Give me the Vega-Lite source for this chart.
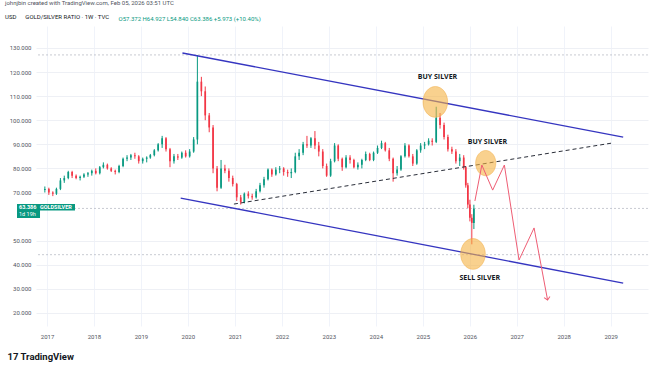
{
  "$schema": "https://vega.github.io/schema/vega-lite/v6.json",
  "width": 612,
  "height": 300,
  "autosize": {"type": "none"},
  "padding": {"left": 36, "top": 26, "right": 6, "bottom": 40},
  "background": "#ffffff",
  "title": {
    "text": "johnjbin created with TradingView.com, Feb 05, 2026 03:51 UTC",
    "subtitle": "\u00a0\u00a0USD\u00a0\u00a0\u00a0\u00a0\u00a0\u00a0GOLD/SILVER RATIO · 1W · TVC",
    "anchor": "start",
    "frame": "group",
    "dx": -31,
    "dy": 8,
    "offset": 3,
    "fontSize": 6,
    "fontWeight": "normal",
    "color": "#50535e",
    "font": "Roboto",
    "subtitleFont": "Roboto",
    "subtitleFontSize": 6,
    "subtitleColor": "#131722",
    "subtitlePadding": 8.5
  },
  "datasets": {
    "candles": [
      {"date": "2016-12-15", "open": 71, "high": 72.5, "low": 70, "close": 71.5},
      {"date": "2017-01-15", "open": 71.5, "high": 72, "low": 69, "close": 70},
      {"date": "2017-02-15", "open": 70, "high": 70.5, "low": 68.5, "close": 69.5},
      {"date": "2017-03-15", "open": 69.5, "high": 72, "low": 69, "close": 71.5},
      {"date": "2017-04-15", "open": 71.5, "high": 76, "low": 71, "close": 75},
      {"date": "2017-05-15", "open": 75, "high": 77, "low": 74, "close": 76},
      {"date": "2017-06-15", "open": 76, "high": 79, "low": 75.5, "close": 78.5},
      {"date": "2017-07-15", "open": 78.5, "high": 79, "low": 76, "close": 77},
      {"date": "2017-08-15", "open": 77, "high": 77.5, "low": 75.5, "close": 76},
      {"date": "2017-09-15", "open": 76, "high": 77, "low": 75, "close": 76.5},
      {"date": "2017-10-15", "open": 76.5, "high": 78, "low": 76, "close": 77.5},
      {"date": "2017-11-15", "open": 77.5, "high": 78.5, "low": 76.5, "close": 78},
      {"date": "2017-12-15", "open": 78, "high": 79.5, "low": 77, "close": 79},
      {"date": "2018-01-15", "open": 79, "high": 80, "low": 77.5, "close": 78},
      {"date": "2018-02-15", "open": 78, "high": 81, "low": 77.5, "close": 80.5},
      {"date": "2018-03-15", "open": 80.5, "high": 82.5, "low": 80, "close": 81.5},
      {"date": "2018-04-15", "open": 81.5, "high": 82, "low": 79.5, "close": 80},
      {"date": "2018-05-15", "open": 80, "high": 80.5, "low": 78.5, "close": 79},
      {"date": "2018-06-15", "open": 79, "high": 79.5, "low": 77.5, "close": 78.5},
      {"date": "2018-07-15", "open": 78.5, "high": 81.5, "low": 78, "close": 81},
      {"date": "2018-08-15", "open": 81, "high": 84.5, "low": 80.5, "close": 84},
      {"date": "2018-09-15", "open": 84, "high": 85.5, "low": 83, "close": 84.5},
      {"date": "2018-10-15", "open": 84.5, "high": 86, "low": 83.5, "close": 85.5},
      {"date": "2018-11-15", "open": 85.5, "high": 86.5, "low": 84, "close": 85},
      {"date": "2018-12-15", "open": 85, "high": 85.5, "low": 82, "close": 83},
      {"date": "2019-01-15", "open": 83, "high": 84.5, "low": 82, "close": 84},
      {"date": "2019-02-15", "open": 84, "high": 85, "low": 82.5, "close": 84.5},
      {"date": "2019-03-15", "open": 84.5, "high": 86, "low": 84, "close": 85.5},
      {"date": "2019-04-15", "open": 85.5, "high": 88, "low": 85, "close": 87.5},
      {"date": "2019-05-15", "open": 87.5, "high": 90.5, "low": 87, "close": 90},
      {"date": "2019-06-15", "open": 90, "high": 93.5, "low": 88.5, "close": 92.5},
      {"date": "2019-07-15", "open": 92.5, "high": 93, "low": 87, "close": 88},
      {"date": "2019-08-15", "open": 88, "high": 88.5, "low": 80.5, "close": 83},
      {"date": "2019-09-15", "open": 83, "high": 86, "low": 82, "close": 85},
      {"date": "2019-10-15", "open": 85, "high": 86, "low": 83.5, "close": 84.5},
      {"date": "2019-11-15", "open": 84.5, "high": 87, "low": 84, "close": 86.5},
      {"date": "2019-12-15", "open": 86.5, "high": 87.5, "low": 84.5, "close": 85},
      {"date": "2020-01-15", "open": 85, "high": 88, "low": 84.5, "close": 87},
      {"date": "2020-02-15", "open": 87, "high": 93, "low": 86.5, "close": 92},
      {"date": "2020-03-15", "open": 92, "high": 127, "low": 90, "close": 116},
      {"date": "2020-04-15", "open": 116, "high": 118, "low": 110, "close": 112},
      {"date": "2020-05-15", "open": 112, "high": 114, "low": 100, "close": 102},
      {"date": "2020-06-15", "open": 102, "high": 103, "low": 95, "close": 97},
      {"date": "2020-07-15", "open": 97, "high": 98, "low": 78, "close": 80},
      {"date": "2020-08-15", "open": 80, "high": 81, "low": 70.5, "close": 72},
      {"date": "2020-09-15", "open": 72, "high": 83.5, "low": 71.5, "close": 80},
      {"date": "2020-10-15", "open": 80, "high": 81.5, "low": 78, "close": 79},
      {"date": "2020-11-15", "open": 79, "high": 80, "low": 74.5, "close": 76},
      {"date": "2020-12-15", "open": 76, "high": 77, "low": 72.5, "close": 73.5},
      {"date": "2021-01-15", "open": 73.5, "high": 74, "low": 66.5, "close": 68},
      {"date": "2021-02-15", "open": 68, "high": 69, "low": 65, "close": 66},
      {"date": "2021-03-15", "open": 66, "high": 70, "low": 65.5, "close": 69.5},
      {"date": "2021-04-15", "open": 69.5, "high": 70.5, "low": 67.5, "close": 68.5},
      {"date": "2021-05-15", "open": 68.5, "high": 69.5, "low": 67, "close": 68},
      {"date": "2021-06-15", "open": 68, "high": 71.5, "low": 67.5, "close": 70.5},
      {"date": "2021-07-15", "open": 70.5, "high": 74, "low": 70, "close": 73},
      {"date": "2021-08-15", "open": 73, "high": 76.5, "low": 72, "close": 75.5},
      {"date": "2021-09-15", "open": 75.5, "high": 80, "low": 75, "close": 79.5},
      {"date": "2021-10-15", "open": 79.5, "high": 80, "low": 76.5, "close": 77.5},
      {"date": "2021-11-15", "open": 77.5, "high": 80.5, "low": 77, "close": 79.5},
      {"date": "2021-12-15", "open": 79.5, "high": 81, "low": 78, "close": 80},
      {"date": "2022-01-15", "open": 80, "high": 80.5, "low": 77, "close": 78.5},
      {"date": "2022-02-15", "open": 78.5, "high": 79.5, "low": 76.5, "close": 78},
      {"date": "2022-03-15", "open": 78, "high": 80, "low": 76, "close": 78.5},
      {"date": "2022-04-15", "open": 78.5, "high": 86.5, "low": 78, "close": 85},
      {"date": "2022-05-15", "open": 85, "high": 88, "low": 83.5, "close": 86.5},
      {"date": "2022-06-15", "open": 86.5, "high": 91, "low": 85.5, "close": 90},
      {"date": "2022-07-15", "open": 90, "high": 93.5, "low": 88.5, "close": 89.5},
      {"date": "2022-08-15", "open": 89.5, "high": 93, "low": 88.5, "close": 92.5},
      {"date": "2022-09-15", "open": 92.5, "high": 95.5, "low": 88, "close": 89.5},
      {"date": "2022-10-15", "open": 89.5, "high": 91, "low": 85, "close": 87},
      {"date": "2022-11-15", "open": 87, "high": 88, "low": 80, "close": 81},
      {"date": "2022-12-15", "open": 81, "high": 82, "low": 76.5, "close": 77},
      {"date": "2023-01-15", "open": 77, "high": 84, "low": 76.5, "close": 83},
      {"date": "2023-02-15", "open": 83, "high": 90.5, "low": 82.5, "close": 89.5},
      {"date": "2023-03-15", "open": 89.5, "high": 90, "low": 83, "close": 84},
      {"date": "2023-04-15", "open": 84, "high": 84.5, "low": 79, "close": 80.5},
      {"date": "2023-05-15", "open": 80.5, "high": 85.5, "low": 80, "close": 84.5},
      {"date": "2023-06-15", "open": 84.5, "high": 85.5, "low": 82, "close": 83.5},
      {"date": "2023-07-15", "open": 83.5, "high": 84, "low": 80, "close": 80.5},
      {"date": "2023-08-15", "open": 80.5, "high": 82.5, "low": 79.5, "close": 81.5},
      {"date": "2023-09-15", "open": 81.5, "high": 84, "low": 80, "close": 83.5},
      {"date": "2023-10-15", "open": 83.5, "high": 87, "low": 83, "close": 86},
      {"date": "2023-11-15", "open": 86, "high": 86.5, "low": 83, "close": 83.5},
      {"date": "2023-12-15", "open": 83.5, "high": 87, "low": 83, "close": 86.5},
      {"date": "2024-01-15", "open": 86.5, "high": 89.5, "low": 86, "close": 88.5},
      {"date": "2024-02-15", "open": 88.5, "high": 91.5, "low": 88, "close": 90.5},
      {"date": "2024-03-15", "open": 90.5, "high": 91, "low": 87, "close": 87.5},
      {"date": "2024-04-15", "open": 87.5, "high": 88.5, "low": 83, "close": 84},
      {"date": "2024-05-15", "open": 84, "high": 84.5, "low": 74.5, "close": 78},
      {"date": "2024-06-15", "open": 78, "high": 81, "low": 77, "close": 79.5},
      {"date": "2024-07-15", "open": 79.5, "high": 85.5, "low": 79, "close": 85},
      {"date": "2024-08-15", "open": 85, "high": 90.5, "low": 84.5, "close": 89.5},
      {"date": "2024-09-15", "open": 89.5, "high": 90, "low": 84.5, "close": 85},
      {"date": "2024-10-15", "open": 85, "high": 86, "low": 81, "close": 82},
      {"date": "2024-11-15", "open": 82, "high": 88, "low": 81.5, "close": 87.5},
      {"date": "2024-12-15", "open": 87.5, "high": 90.5, "low": 86.5, "close": 89.5},
      {"date": "2025-01-15", "open": 89.5, "high": 91, "low": 88, "close": 90},
      {"date": "2025-02-15", "open": 90, "high": 92.5, "low": 89.5, "close": 91.5},
      {"date": "2025-03-15", "open": 91.5, "high": 92.5, "low": 89.5, "close": 91},
      {"date": "2025-04-15", "open": 91, "high": 105.6, "low": 90.5, "close": 101},
      {"date": "2025-05-15", "open": 101, "high": 103, "low": 96.5, "close": 98},
      {"date": "2025-06-15", "open": 98, "high": 99, "low": 92, "close": 93},
      {"date": "2025-07-15", "open": 93, "high": 94, "low": 87, "close": 88},
      {"date": "2025-08-15", "open": 88, "high": 89, "low": 86, "close": 87},
      {"date": "2025-09-15", "open": 87, "high": 88, "low": 82, "close": 83},
      {"date": "2025-10-15", "open": 83, "high": 86, "low": 81, "close": 84.5},
      {"date": "2025-11-15", "open": 84.5, "high": 85.5, "low": 79.5, "close": 80.5},
      {"date": "2025-12-01", "open": 80.5, "high": 81, "low": 72, "close": 73},
      {"date": "2025-12-17", "open": 73, "high": 74, "low": 63.5, "close": 65},
      {"date": "2026-01-02", "open": 65, "high": 67, "low": 58, "close": 59.5},
      {"date": "2026-01-17", "open": 59.5, "high": 61, "low": 48.5, "close": 57.4},
      {"date": "2026-02-02", "open": 57.372, "high": 64.927, "low": 54.84, "close": 63.386}
    ],
    "levels": [
      {"price": 127.1},
      {"price": 63.386},
      {"price": 44.2}
    ],
    "channel": [
      {"line": "upper", "date": "2019-11-20", "price": 127.9},
      {"line": "upper", "date": "2029-04-08", "price": 93.0},
      {"line": "lower", "date": "2019-11-06", "price": 67.7},
      {"line": "lower", "date": "2029-04-08", "price": 32.4}
    ],
    "support": [
      {"date": "2020-12-24", "price": 65.2},
      {"date": "2029-01-08", "price": 90.5}
    ],
    "projection": [
      {"step": 1, "date": "2026-02-10", "price": 66.5},
      {"step": 2, "date": "2026-04-05", "price": 81.4},
      {"step": 3, "date": "2026-06-28", "price": 71.0},
      {"step": 4, "date": "2026-09-27", "price": 81.4},
      {"step": 5, "date": "2027-01-19", "price": 42.0},
      {"step": 6, "date": "2027-05-16", "price": 55.3},
      {"step": 7, "date": "2027-08-29", "price": 25.4}
    ],
    "arrow": [
      {"date": "2027-08-29", "price": 25.4}
    ],
    "circles": [
      {"name": "buy1", "date": "2025-04-08", "price": 107.6},
      {"name": "buy2", "date": "2026-05-05", "price": 82.2},
      {"name": "sell", "date": "2026-01-26", "price": 44.5}
    ],
    "labels": [
      {"text": "BUY SILVER", "date": "2025-04-25", "price": 118.0},
      {"text": "BUY SILVER", "date": "2026-05-18", "price": 91.0},
      {"text": "SELL SILVER", "date": "2026-03-20", "price": 34.5}
    ],
    "tag": [
      {"date": "2016-11-15", "price": 63.386, "value": "63.386", "symbol": "GOLDSILVER", "countdown": "1d 19h"}
    ]
  },
  "layer": [
    {
      "data": {"name": "candles"},
      "mark": {"type": "rule", "strokeWidth": 1},
      "encoding": {
        "x": {
          "field": "date", "type": "temporal",
          "scale": {"type": "utc", "domain": [{"year": 2016, "month": 11, "date": 15, "utc": true}, {"year": 2029, "month": 9, "date": 9, "utc": true}]},
          "axis": {
            "title": "O57.372  H64.927  L54.840  C63.386  +5.973 (+10.40%)",
            "titleX": 82, "titleY": -308, "titleAngle": 0, "titleAlign": "left", "titleBaseline": "middle",
            "titleFont": "Roboto", "titleFontSize": 6, "titleFontWeight": "normal", "titleColor": "#089981",
            "values": [
              {"year": 2017, "utc": true}, {"year": 2018, "utc": true}, {"year": 2019, "utc": true},
              {"year": 2020, "utc": true}, {"year": 2021, "utc": true}, {"year": 2022, "utc": true},
              {"year": 2023, "utc": true}, {"year": 2024, "utc": true}, {"year": 2025, "utc": true},
              {"year": 2026, "utc": true}, {"year": 2027, "utc": true}, {"year": 2028, "utc": true},
              {"year": 2029, "utc": true}
            ],
            "tickCount": 40,
            "format": "%Y", "formatType": "utc", "labelOverlap": false,
            "labelFont": "Roboto", "labelFontSize": 6, "labelColor": "#50535e", "labelPadding": 7,
            "tickSize": 0, "domain": false, "grid": true, "gridColor": "#f0f3fa", "gridWidth": 1
          }
        },
        "y": {
          "field": "low", "type": "quantitative",
          "scale": {"domain": [14.6, 139.1], "nice": false, "zero": false},
          "axis": {
            "title": "17 TradingView",
            "titleX": -29, "titleY": 330, "titleAngle": 0, "titleAlign": "left", "titleBaseline": "middle",
            "titleFont": "Roboto", "titleFontSize": 9.5, "titleFontWeight": "bold", "titleColor": "#131722",
            "values": [20, 30, 40, 50, 70, 80, 90, 100, 110, 120, 130],
            "tickCount": 40,
            "format": ".3f", "labelOverlap": false,
            "labelFont": "Roboto", "labelFontSize": 6, "labelColor": "#50535e", "labelPadding": 5,
            "tickSize": 0, "domain": false, "grid": true, "gridColor": "#eef0f5", "gridWidth": 1
          }
        },
        "y2": {"field": "high"},
        "color": {"condition": {"test": "datum.close >= datum.open", "value": "#089981"}, "value": "#f23645"}
      }
    },
    {
      "data": {"name": "levels"},
      "mark": {"type": "rule", "color": "#b2b5be", "strokeWidth": 0.7, "strokeDash": [2, 2]},
      "encoding": {
        "y": {"field": "price", "type": "quantitative"}
      }
    },
    {
      "data": {"name": "candles"},
      "mark": {"type": "bar", "width": 1.7},
      "encoding": {
        "x": {"field": "date", "type": "temporal"},
        "y": {"field": "open", "type": "quantitative"},
        "y2": {"field": "close"},
        "color": {"condition": {"test": "datum.close >= datum.open", "value": "#089981"}, "value": "#f23645"}
      }
    },
    {
      "data": {"name": "channel"},
      "mark": {"type": "line", "color": "#3535c0", "strokeWidth": 1.3},
      "encoding": {
        "x": {"field": "date", "type": "temporal"},
        "y": {"field": "price", "type": "quantitative"},
        "detail": {"field": "line"}
      }
    },
    {
      "data": {"name": "support"},
      "mark": {"type": "line", "color": "#2a2e39", "strokeWidth": 1, "strokeDash": [4, 3]},
      "encoding": {
        "x": {"field": "date", "type": "temporal"},
        "y": {"field": "price", "type": "quantitative"}
      }
    },
    {
      "data": {"name": "circles"},
      "transform": [{"filter": "datum.name !== 'buy2'"}],
      "mark": {"type": "point", "shape": "M-0.8,0 A0.8,1 0 1,0 0.8,0 A0.8,1 0 1,0 -0.8,0 Z", "size": 950, "filled": true, "fill": "#f5b342", "fillOpacity": 0.6, "stroke": "#eea12e", "strokeWidth": 0.6, "strokeOpacity": 0.7},
      "encoding": {
        "x": {"field": "date", "type": "temporal"},
        "y": {"field": "price", "type": "quantitative"}
      }
    },
    {
      "data": {"name": "circles"},
      "transform": [{"filter": "datum.name === 'buy2'"}],
      "mark": {"type": "point", "shape": "M-0.8,0 A0.8,1 0 1,0 0.8,0 A0.8,1 0 1,0 -0.8,0 Z", "size": 640, "filled": true, "fill": "#f5b342", "fillOpacity": 0.6, "stroke": "#eea12e", "strokeWidth": 0.6, "strokeOpacity": 0.7},
      "encoding": {
        "x": {"field": "date", "type": "temporal"},
        "y": {"field": "price", "type": "quantitative"}
      }
    },
    {
      "data": {"name": "projection"},
      "mark": {"type": "line", "color": "#ee5d74", "strokeWidth": 1},
      "encoding": {
        "x": {"field": "date", "type": "temporal"},
        "y": {"field": "price", "type": "quantitative"},
        "order": {"field": "step"}
      }
    },
    {
      "data": {"name": "arrow"},
      "mark": {"type": "point", "shape": "M-1,-1 L0,0 L1,-1", "size": 36, "filled": false, "stroke": "#ee5d74", "strokeWidth": 1, "angle": -11, "opacity": 1},
      "encoding": {
        "x": {"field": "date", "type": "temporal"},
        "y": {"field": "price", "type": "quantitative"}
      }
    },
    {
      "data": {"name": "labels"},
      "mark": {"type": "text", "font": "Open Sans", "fontSize": 7, "fontWeight": "bold", "color": "#131722", "align": "center", "baseline": "middle"},
      "encoding": {
        "x": {"field": "date", "type": "temporal"},
        "y": {"field": "price", "type": "quantitative"},
        "text": {"field": "text"}
      }
    },
    {
      "data": {"name": "tag"},
      "mark": {"type": "point", "shape": "M-0.8,-0.147 H1.133 V0.07 H-0.033 V0.32 H-0.8 Z", "size": 3600, "filled": true, "fill": "#089981", "opacity": 1, "strokeWidth": 0},
      "encoding": {
        "x": {"field": "date", "type": "temporal"},
        "y": {"field": "price", "type": "quantitative"}
      }
    },
    {
      "data": {"name": "tag"},
      "mark": {"type": "text", "font": "Roboto", "fontSize": 5.5, "fontWeight": "bold", "color": "#ffffff", "align": "left", "baseline": "middle", "dx": -22, "dy": -1.2},
      "encoding": {
        "x": {"field": "date", "type": "temporal"},
        "y": {"field": "price", "type": "quantitative"},
        "text": {"field": "value"}
      }
    },
    {
      "data": {"name": "tag"},
      "mark": {"type": "text", "font": "Roboto", "fontSize": 5.5, "fontWeight": "bold", "color": "#ffffff", "align": "left", "baseline": "middle", "dx": -1, "dy": -1.2},
      "encoding": {
        "x": {"field": "date", "type": "temporal"},
        "y": {"field": "price", "type": "quantitative"},
        "text": {"field": "symbol"}
      }
    },
    {
      "data": {"name": "tag"},
      "mark": {"type": "text", "font": "Roboto", "fontSize": 5.5, "color": "#ffffff", "align": "left", "baseline": "middle", "dx": -22, "dy": 6},
      "encoding": {
        "x": {"field": "date", "type": "temporal"},
        "y": {"field": "price", "type": "quantitative"},
        "text": {"field": "countdown"}
      }
    }
  ],
  "config": {
    "view": {"stroke": null}
  }
}
